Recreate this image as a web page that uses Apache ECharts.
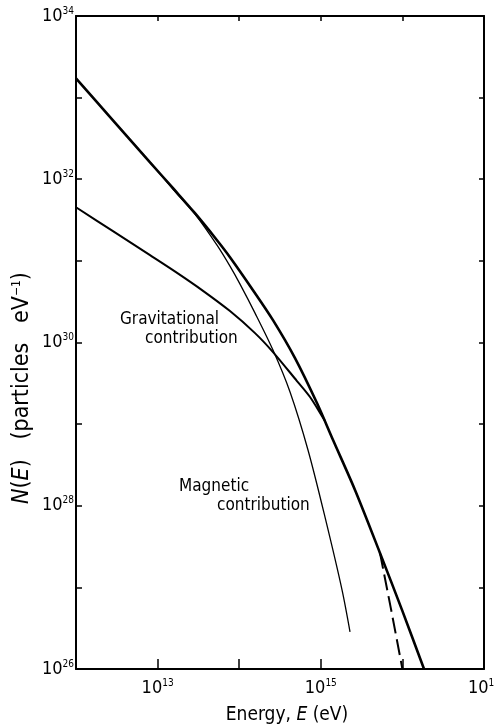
<!DOCTYPE html>
<html><head><meta charset="utf-8">
<script src="https://cdn.jsdelivr.net/npm/echarts@6/dist/echarts.min.js"></script>
<style>html,body{margin:0;padding:0;background:#fff}#c{width:494px;height:726px}</style>
</head><body><div id="c"></div>
<script>
// log10 values
const xLabelExp = [13, 15, 17];
const yLabelExp = [26, 28, 30, 32, 34];

const totalLogE = [12.0, 12.453, 12.907, 13.189, 13.458, 13.728, 13.887, 14.169, 14.414, 14.684, 14.953, 15.15, 15.419, 15.725, 15.995, 16.265];
const totalLogN = [33.236, 32.722, 32.208, 31.89, 31.584, 31.253, 31.045, 30.641, 30.274, 29.809, 29.258, 28.805, 28.193, 27.422, 26.724, 26.0];

const magLogE = [12.0, 12.453, 12.907, 13.189, 13.458, 13.728, 13.887, 14.01, 14.194, 14.414, 14.623, 14.843, 15.051, 15.26, 15.358];
const magLogN = [33.236, 32.722, 32.208, 31.878, 31.572, 31.192, 30.935, 30.715, 30.36, 29.907, 29.393, 28.683, 27.863, 26.97, 26.456];

const gravLogE = [12.0, 12.453, 12.907, 13.225, 13.544, 13.887, 14.194, 14.414, 14.708, 14.868, 15.051];
const gravLogN = [31.657, 31.364, 31.07, 30.862, 30.642, 30.385, 30.115, 29.883, 29.528, 29.332, 29.038];

const cutLogE = [15.725, 15.86, 16.0];
const cutLogN = [27.422, 26.737, 26.0];

const F = "'DejaVu Sans Condensed','DejaVu Sans',sans-serif";
const pts = (xs, ys) => xs.map((x, i) => [Math.pow(10, x), Math.pow(10, ys[i])]);
const expOf = v => Math.round(Math.log10(v));

const chart = echarts.init(document.getElementById('c'), null, {renderer: 'canvas'});
const axisLine = {show: true, lineStyle: {color: '#000', width: 2}};
const labelRich = {
  b: {fontSize: 18, fontFamily: F, color: '#000', lineHeight: 20},
  s: {fontSize: 10, fontFamily: F, color: '#000', verticalAlign: 'top'}
};
const lineSeries = (name, xs, ys, width, extra) => Object.assign({
  name, type: 'line', data: pts(xs, ys), smooth: 0.3, symbol: 'none',
  lineStyle: {color: '#000', width}
}, extra || {});

chart.setOption({
  animation: false,
  backgroundColor: '#fff',
  grid: {left: 76, right: 10, top: 16, bottom: 57, containLabel: false, outerBoundsMode: 'none'},
  xAxis: [{
    type: 'log', logBase: 10, min: 1e12, max: 1e17, position: 'bottom',
    axisLine, splitLine: {show: false},
    axisTick: {show: true, inside: true, length: 10, lineStyle: {color: '#000', width: 1.5}},
    axisLabel: {margin: 9, rich: labelRich, hideOverlap: false,
      formatter: v => xLabelExp.includes(expOf(v)) ? '{b|10}{s|' + expOf(v) + '}' : ''}
  }, {
    type: 'log', logBase: 10, min: 1e12, max: 1e17, position: 'top',
    axisLine, splitLine: {show: false},
    axisTick: {show: true, inside: true, length: 5, lineStyle: {color: '#000', width: 1.5}},
    axisLabel: {show: false}
  }],
  yAxis: [{
    type: 'log', logBase: 10, min: 1e26, max: 1e34, position: 'left',
    axisLine, splitLine: {show: false},
    axisTick: {show: true, inside: true, length: 6, lineStyle: {color: '#000', width: 1.5}},
    axisLabel: {margin: 2, rich: labelRich,
      formatter: v => yLabelExp.includes(expOf(v)) ? '{b|10}{s|' + expOf(v) + '}' : ''}
  }, {
    type: 'log', logBase: 10, min: 1e26, max: 1e34, position: 'right',
    axisLine, splitLine: {show: false},
    axisTick: {show: true, inside: true, length: 5, lineStyle: {color: '#000', width: 1.5}},
    axisLabel: {show: false}
  }],
  series: [
    lineSeries('Total', totalLogE, totalLogN, 2.6, {z: 5}),
    lineSeries('Magnetic', magLogE, magLogN, 1.3),
    lineSeries('Gravitational', gravLogE, gravLogN, 2),
    lineSeries('Cutoff', cutLogE, cutLogN, 2, {smooth: false, lineStyle: {color: '#000', width: 2, type: [16, 6]}})
  ],
  graphic: [
    {type: 'text', left: 120, top: 311, style: {text: 'Gravitational', font: '17px ' + F, fill: '#000'}},
    {type: 'text', left: 145, top: 330, style: {text: 'contribution', font: '17px ' + F, fill: '#000'}},
    {type: 'text', left: 179, top: 478, style: {text: 'Magnetic', font: '17px ' + F, fill: '#000'}},
    {type: 'text', left: 217, top: 497, style: {text: 'contribution', font: '17px ' + F, fill: '#000'}},
    {type: 'text', x: 287, y: 715, style: {
      text: 'Energy, {i|E} (eV)', align: 'center', verticalAlign: 'middle',
      font: '19px ' + F, fill: '#000',
      rich: {i: {fontSize: 19, fontFamily: F, fontStyle: 'italic', color: '#000'}}}},
    {type: 'text', x: 22, y: 388, rotation: Math.PI / 2, style: {
      text: '{i|N}({i|E})   (particles   eV{s|−1})', align: 'center', verticalAlign: 'middle',
      font: '23px ' + F, fill: '#000',
      rich: {i: {fontSize: 23, fontFamily: F, fontStyle: 'italic', color: '#000'},
             s: {fontSize: 12, fontFamily: F, color: '#000', verticalAlign: 'top'}}}}
  ]
});
</script>
</body></html>
